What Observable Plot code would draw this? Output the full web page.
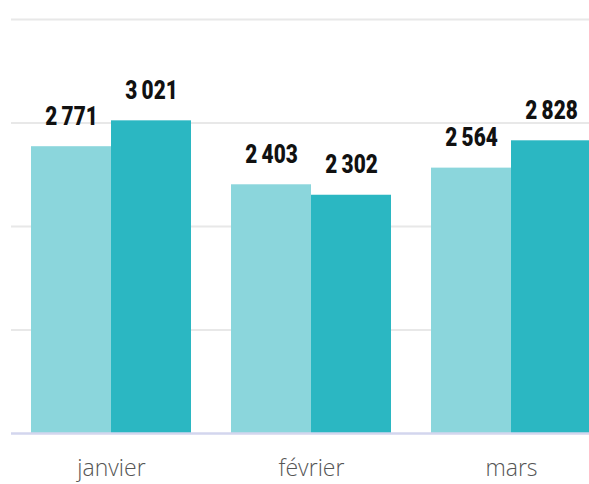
<!DOCTYPE html>
<html>
<head>
<meta charset="utf-8">
<script src="https://cdn.jsdelivr.net/npm/d3@7"></script>
<script src="https://cdn.jsdelivr.net/npm/@observablehq/plot@0.6"></script>
<style>
  html, body { margin: 0; padding: 0; background: #fff; overflow: hidden; }
  #chart svg { display: block; }
</style>
</head>
<body>
<div id="chart"></div>
<script>
const months = ["janvier", "février", "mars"];
const seriesNames = ["A", "B"];
const seriesA = [2771, 2403, 2564];
const seriesB = [3021, 2302, 2828];
const gridTicks = [1000, 2000, 3000, 4000];
const colors = ["#8bd6dc", "#2bb7c2"];

// grouped layout: each month occupies one unit; the two bars share 80% of it
const groupWidth = 0.8;
const barWidth = groupWidth / seriesNames.length;

const data = [];
months.forEach((m, i) => {
  [seriesA, seriesB].forEach((s, j) => {
    const x1 = i - groupWidth / 2 + j * barWidth;
    data.push({month: m, index: i, series: seriesNames[j], value: s[i], x1, x2: x1 + barWidth, xc: x1 + barWidth / 2});
  });
});

const fmt = d3.formatLocale({decimal: ",", thousands: "\u2009", grouping: [3], currency: ["", " €"]}).format(",d");

const chart = Plot.plot({
  width: 589,
  height: 484,
  marginLeft: 11,
  marginRight: -22,
  marginTop: 19,
  marginBottom: 51,
  style: {fontFamily: "'Open Sans', sans-serif", background: "#fff"},
  x: {domain: [-0.5, months.length - 0.5], axis: null},
  y: {domain: [0, 4000], axis: null},
  color: {domain: seriesNames, range: colors},
  marks: [
    Plot.ruleY(gridTicks, {stroke: "#e8e8e8", strokeWidth: 2}),
    Plot.rectY(data, {x1: "x1", x2: "x2", y: "value", fill: "series"}),
    Plot.ruleY([0], {stroke: "#d3d6ee", strokeWidth: 2.5}),
    Plot.text(data, {
      x: "xc", y: "value", text: d => fmt(d.value),
      lineAnchor: "bottom", dy: -22, fontSize: 26, fontWeight: 900,
      fontFamily: "Roboto, 'Liberation Sans', sans-serif",
      fill: "#111"
    }),
    Plot.axisX(months.map((m, i) => i), {anchor: "bottom", tickSize: 0, tickPadding: 26, fontSize: 23, fontWeight: 300, fill: "#555", tickFormat: i => months[i], label: null})
  ]
});
// condense the value labels horizontally (narrow bold digits as in the original)
d3.select(chart).selectAll('g[aria-label="text"] text').each(function() {
  const t = this.getAttribute("transform") || "";
  this.setAttribute("transform", t + " scale(0.8,1)");
});
document.getElementById("chart").appendChild(chart);
</script>
</body>
</html>
